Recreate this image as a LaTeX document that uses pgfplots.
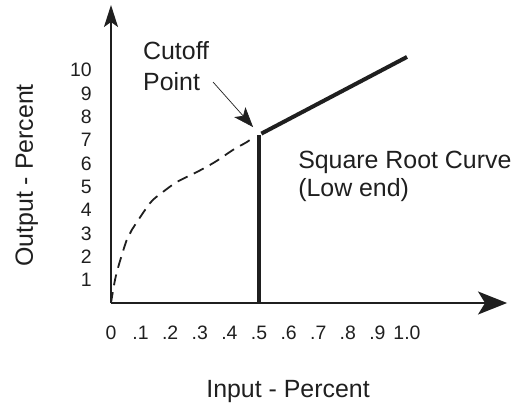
\documentclass[border=0pt]{standalone}
\usepackage{pgfplots}
\pgfplotsset{compat=1.18}
\usetikzlibrary{arrows.meta}
\usepackage{fontspec}
\setmainfont{Liberation Sans}
\definecolor{ink}{rgb}{0.12,0.12,0.12}
\begin{document}
\begin{tikzpicture}
\begin{axis}[
  anchor=origin, at={(0,0)},
  x=296bp, y=23.3bp,
  xmin=0, xmax=1.338, ymin=0, ymax=12.79,
  axis lines=left,
  clip=false,
  axis line style={line width=2bp, draw=ink},
  x axis line style={-{Stealth[length=29bp,width=23bp,inset=7bp]}},
  y axis line style={-{Stealth[length=22bp,width=14bp,inset=5bp]}},
  major tick length=0pt,
  tick style={draw=none},
  xtick={0,0.1,0.2,0.3,0.4,0.5,0.6,0.7,0.8,0.9,1.0},
  xticklabels={0,{.1},{.2},{.3},{.4},{.5},{.6},{.7},{.8},{.9},{1.0}},
  ytick={1,2,3,4,5,6,7,8,9,10},
  yticklabels={1,2,3,4,5,6,7,8,9,10},
  xticklabel style={anchor=base, inner sep=0pt, yshift=-36bp, font=\fontsize{19.5}{22}\selectfont, text=ink},
  yticklabel style={anchor=base east, inner sep=0pt, xshift=-19bp, yshift=-7bp, font=\fontsize{19.5}{22}\selectfont, text=ink},
  xlabel={Input - Percent},
  ylabel={Output - Percent},
  xlabel style={at={(axis description cs:0.447,0)}, anchor=base, inner sep=0pt, yshift=-94bp, font=\fontsize{25}{30}\selectfont, text=ink},
  ylabel style={at={(axis description cs:-0.197,0.428)}, anchor=base, inner sep=0pt, font=\fontsize{25}{30}\selectfont, text=ink},
]
% dashed square-root portion
\addplot[ink, line width=1.8bp, dash pattern=on 11bp off 7bp, smooth, tension=0.5] coordinates {
(0,0) (0.0135,0.99) (0.028,1.7) (0.053,2.7) (0.070,3.13) (0.132,4.29) (0.171,4.72) (0.222,5.19) (0.290,5.62) (0.351,6.05) (0.412,6.57) (0.458,6.9) (0.480,7.1)
};
% vertical cutoff
\addplot[ink, line width=4bp] coordinates {(0.5,0) (0.5,7.2)};
% linear upper portion
\addplot[ink, line width=4bp] coordinates {(0.508,7.27) (1.0,10.56)};
% annotation arrow
\addplot[ink, line width=0.7bp, -{Stealth[length=20bp,width=15bp,inset=5bp]}] coordinates {(0.345,9.48) (0.480,7.55)};
\node[anchor=base west, inner sep=0pt, font=\fontsize{25}{30}\selectfont, text=ink] at (axis cs:0.108,10.43) {Cutoff};
\node[anchor=base west, inner sep=0pt, font=\fontsize{25}{30}\selectfont, text=ink] at (axis cs:0.108,9.10) {Point};
\node[anchor=base west, inner sep=0pt, font=\fontsize{25}{30}\selectfont, text=ink] at (axis cs:0.632,5.79) {Square Root Curve};
\node[anchor=base west, inner sep=0pt, font=\fontsize{25}{30}\selectfont, text=ink] at (axis cs:0.632,4.55) {(Low end)};
\end{axis}
\pgfresetboundingbox
\path[use as bounding box] (-111bp,-102bp) rectangle (410bp,303bp);
\end{tikzpicture}
\end{document}
